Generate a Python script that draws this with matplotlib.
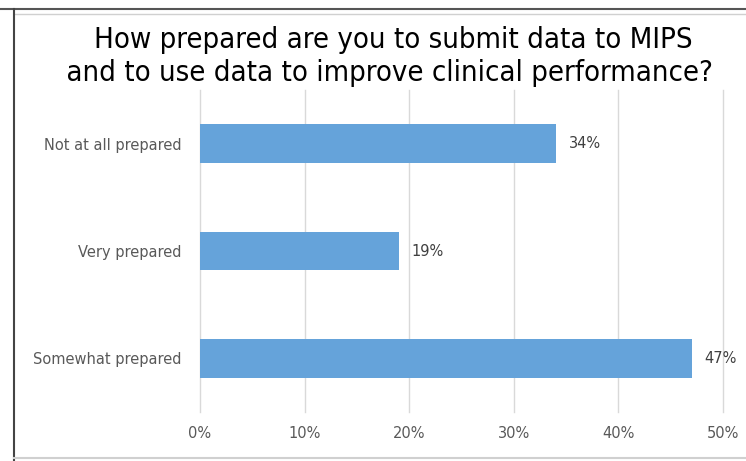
import matplotlib
matplotlib.use("Agg")
import matplotlib.pyplot as plt
from matplotlib.lines import Line2D

categories = ["Somewhat prepared", "Very prepared", "Not at all prepared"]
values = [47, 19, 34]
xticks = [0, 10, 20, 30, 40, 50]
xtick_labels = ["0%", "10%", "20%", "30%", "40%", "50%"]
title_lines = ["How prepared are you to submit data to MIPS",
               " and to use data to improve clinical performance?"]

W, H = 746, 461
fig = plt.figure(figsize=(W/100, H/100), dpi=100)
ax = fig.add_axes([200/W, 1-412/H, 523/W, 322/H])

ypos = list(range(len(categories)))
ax.barh(ypos, values, height=0.36, color="#65A3DA", zorder=3)
for y, v in zip(ypos, values):
    ax.annotate(f"{v}%", (v, y), xytext=(13, 0), textcoords="offset pixels",
                va="center", ha="left", fontsize=10.5, color="#404040")

ax.set_xlim(0, 50)
ax.set_ylim(-0.5, 2.5)
ax.set_xticks(xticks)
ax.set_xticklabels(xtick_labels, fontsize=10.5, color="#595959")
ax.set_yticks(ypos)
ax.set_yticklabels(categories, fontsize=10.5, color="#595959")
ax.tick_params(axis="both", length=0)
ax.tick_params(axis="x", pad=10)
ax.tick_params(axis="y", pad=13)
ax.grid(axis="x", color="#D9D9D9", linewidth=1, zorder=0)
for gl in ax.get_xgridlines():
    gl.set_clip_on(False)
for s in ax.spines.values():
    s.set_visible(False)

title_pos = [(393/W, 1-48/H), (385/W, 1-81/H)]
for (tx, ty), line in zip(title_pos, title_lines):
    fig.text(tx, ty, line, ha="center", va="baseline", fontsize=21,
             family="DejaVu Sans", fontstretch="condensed", color="black")

# screenshot border
fig.add_artist(Line2D([0, 1], [1-9/H, 1-9/H], color="#555555", lw=1.5, transform=fig.transFigure))
fig.add_artist(Line2D([14/W, 1], [1-14/H, 1-14/H], color="#D0D0D0", lw=1, transform=fig.transFigure))
fig.add_artist(Line2D([14/W, 14/W], [0, 1-9/H], color="#444444", lw=1.5, transform=fig.transFigure))
fig.add_artist(Line2D([14/W, 1], [3/H, 3/H], color="#D0D0D0", lw=1.5, transform=fig.transFigure))

fig.savefig("out.png", dpi=100)
